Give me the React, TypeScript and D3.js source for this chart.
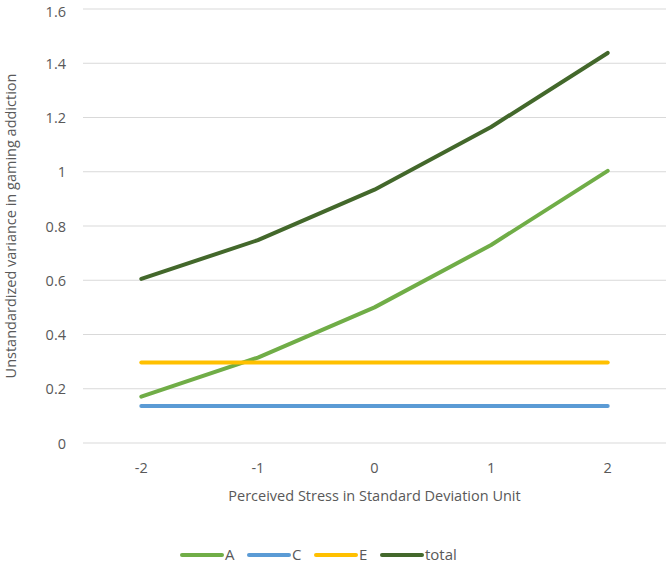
import React from "react";
import * as d3 from "d3";

const categories = ["-2", "-1", "0", "1", "2"];
const seriesA = [0.171, 0.315, 0.5, 0.73, 1.003];
const seriesC = [0.136, 0.136, 0.136, 0.136, 0.136];
const seriesE = [0.297, 0.297, 0.297, 0.297, 0.297];
const seriesTotal = [0.605, 0.748, 0.934, 1.165, 1.438];
const yTicks = [0, 0.2, 0.4, 0.6, 0.8, 1, 1.2, 1.4, 1.6];

const series = [
  { name: "A", values: seriesA, color: "#70ad47" },
  { name: "C", values: seriesC, color: "#5b9bd5" },
  { name: "E", values: seriesE, color: "#ffc000" },
  { name: "total", values: seriesTotal, color: "#43682b" },
];

const width = 666;
const height = 566;
const margin = { top: 9, right: 0, bottom: 123, left: 83 };
const font = "'Open Sans', 'Liberation Sans', sans-serif";

export default function App() {
  const x = d3
    .scalePoint<string>()
    .domain(categories)
    .range([margin.left, width - margin.right])
    .padding(0.5);
  const y = d3
    .scaleLinear()
    .domain([0, 1.6])
    .range([height - margin.bottom, margin.top]);

  const line = d3
    .line<number>()
    .x((_, i) => x(categories[i]) as number)
    .y((d) => y(d));

  // legend swatch starts
  const legendX = [182, 249, 316, 382];

  return (
    <svg
      width={width}
      height={height}
      style={{ position: "absolute", left: 0, top: 0, background: "#fff" }}
      fontFamily={font}
    >
      {yTicks.map((t, i) => (
        <g key={t}>
          <line
            x1={margin.left}
            x2={width - margin.right}
            y1={y(t)}
            y2={y(t)}
            stroke="#d9d9d9"
            strokeWidth={1}
          />
          <text
            x={66}
            y={y(t) + (i === yTicks.length - 1 ? 7.5 : 5.5)}
            textAnchor="end"
            fontSize={14.5}
            fill="#595959"
          >
            {String(t)}
          </text>
        </g>
      ))}
      {categories.map((c) => (
        <text
          key={c}
          x={x(c)}
          y={473}
          textAnchor="middle"
          fontSize={14.5}
          fill="#595959"
        >
          {c}
        </text>
      ))}
      <text
        x={(margin.left + width) / 2}
        y={501}
        textAnchor="middle"
        fontSize={14.5}
        fill="#595959"
      >
        Perceived Stress in Standard Deviation Unit
      </text>
      <text
        transform={`translate(16, ${(margin.top + height - margin.bottom) / 2}) rotate(-90)`}
        textAnchor="middle"
        fontSize={14.5}
        fill="#595959"
      >
        Unstandardized variance in gaming addiction
      </text>
      {series.map((s) => (
        <path
          key={s.name}
          d={line(s.values) || ""}
          fill="none"
          stroke={s.color}
          strokeWidth={4}
          strokeLinecap="round"
          strokeLinejoin="round"
        />
      ))}
      {series.map((s, i) => (
        <g key={s.name}>
          <line
            x1={legendX[i]}
            x2={legendX[i] + 40}
            y1={555}
            y2={555}
            stroke={s.color}
            strokeWidth={4}
            strokeLinecap="round"
          />
          <text
            x={legendX[i] + 43}
            y={560}
            fontSize={15}
            fill="#595959"
          >
            {s.name}
          </text>
        </g>
      ))}
    </svg>
  );
}
